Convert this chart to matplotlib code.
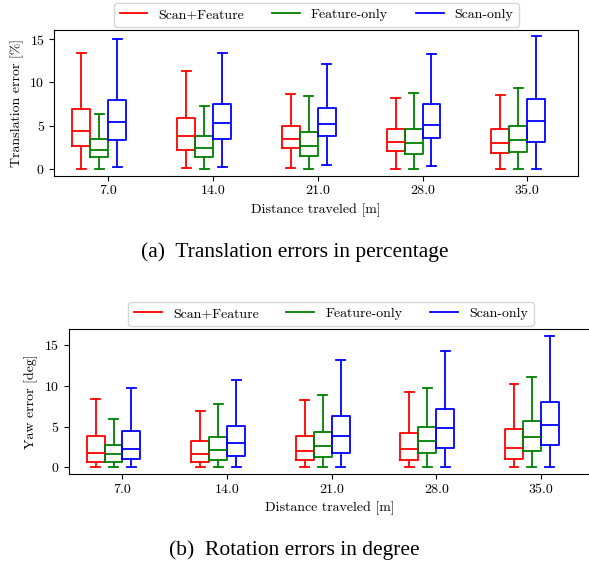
import matplotlib
matplotlib.use("Agg")
import matplotlib.pyplot as plt
from matplotlib.lines import Line2D

# Distances at which the errors were evaluated
distances = [7.0, 14.0, 21.0, 28.0, 35.0]
methods = ["Scan+Feature", "Feature-only", "Scan-only"]
colors = ["red", "green", "blue"]

# Translation error [%]: whisker low, Q1, median, Q3, whisker high
trans_low = {
    "Scan+Feature": [0.0, 0.08, 0.16, 0.0, 0.0],
    "Feature-only": [0.0, 0.0, 0.0, 0.0, 0.0],
    "Scan-only": [0.2, 0.27, 0.43, 0.35, 0.0],
}
trans_q1 = {
    "Scan+Feature": [2.65, 2.19, 2.38, 2.11, 1.88],
    "Feature-only": [1.38, 1.35, 1.5, 1.77, 2.0],
    "Scan-only": [3.34, 3.5, 3.76, 3.53, 3.15],
}
trans_med = {
    "Scan+Feature": [4.42, 3.8, 3.5, 3.15, 2.99],
    "Feature-only": [2.19, 2.38, 2.61, 3.04, 3.38],
    "Scan-only": [5.41, 5.34, 5.18, 5.07, 5.53],
}
trans_q3 = {
    "Scan+Feature": [6.95, 5.91, 4.91, 4.57, 4.6],
    "Feature-only": [3.42, 3.76, 4.3, 4.57, 4.95],
    "Scan-only": [8.02, 7.45, 7.06, 7.45, 8.06],
}
trans_high = {
    "Scan+Feature": [13.35, 11.32, 8.68, 8.17, 8.6],
    "Feature-only": [6.37, 7.3, 8.4, 8.75, 9.37],
    "Scan-only": [14.96, 13.35, 12.08, 13.23, 15.3],
}

# Yaw error [deg]
yaw_low = {
    "Scan+Feature": [0.0, 0.0, 0.0, 0.0, 0.0],
    "Feature-only": [0.0, 0.0, 0.0, 0.0, 0.0],
    "Scan-only": [0.0, 0.0, 0.0, 0.0, 0.0],
}
yaw_q1 = {
    "Scan+Feature": [0.69, 0.69, 0.85, 0.93, 1.05],
    "Feature-only": [0.69, 0.93, 1.29, 1.73, 2.02],
    "Scan-only": [1.0, 1.37, 1.73, 2.38, 2.7],
}
yaw_med = {
    "Scan+Feature": [1.77, 1.69, 2.06, 2.22, 2.34],
    "Feature-only": [1.61, 2.1, 2.62, 3.27, 3.75],
    "Scan-only": [2.3, 2.98, 3.79, 4.76, 5.2],
}
yaw_q3 = {
    "Scan+Feature": [3.79, 3.2, 3.83, 4.23, 4.72],
    "Feature-only": [2.78, 3.71, 4.27, 4.96, 5.65],
    "Scan-only": [4.48, 5.08, 6.29, 7.14, 8.02],
}
yaw_high = {
    "Scan+Feature": [8.35, 6.85, 8.27, 9.27, 10.16],
    "Feature-only": [5.89, 7.74, 8.83, 9.68, 11.09],
    "Scan-only": [9.76, 10.65, 13.1, 14.23, 16.09],
}

plt.rcParams["font.family"] = ["cmr10", "DejaVu Serif"]
plt.rcParams["axes.formatter.use_mathtext"] = True
plt.rcParams["font.size"] = 10


def draw_boxes(ax, low, q1, med, q3, high):
    width = 1.2
    offsets = [-1.8, -0.6, 0.6]
    for method, color, offset in zip(methods, colors, offsets):
        stats = []
        for i in range(len(distances)):
            stats.append({
                "whislo": low[method][i],
                "q1": q1[method][i],
                "med": med[method][i],
                "q3": q3[method][i],
                "whishi": high[method][i],
            })
        positions = [d + offset for d in distances]
        style = dict(color=color, linewidth=1.3)
        ax.bxp(stats, positions=positions, widths=width, showfliers=False,
               boxprops=style, whiskerprops=style, capprops=style,
               medianprops=style, manage_ticks=False)
    ax.set_xlim(3.4, 38.4)
    ax.set_xticks(distances)
    ax.set_xticklabels([f"{d:.1f}" for d in distances])
    ax.set_yticks([0, 5, 10, 15])
    ax.set_xlabel("Distance traveled [m]")


fig = plt.figure(figsize=(5.89, 5.63), dpi=100)

ax_top = fig.add_axes([0.0925, 0.688, 0.889, 0.259])
draw_boxes(ax_top, trans_low, trans_q1, trans_med, trans_q3, trans_high)
ax_top.set_ylabel("Translation error [%]")

ax_bot = fig.add_axes([0.1166, 0.158, 0.888, 0.2575])
draw_boxes(ax_bot, yaw_low, yaw_q1, yaw_med, yaw_q3, yaw_high)
ax_bot.set_ylabel("Yaw error [deg]")

handles = [Line2D([], [], color=c, linewidth=1.3) for c in colors]
fig.legend(handles, methods, loc="upper center", ncol=3, borderaxespad=0,
           bbox_to_anchor=(316.5 / 589, 1 - 3 / 563), columnspacing=2.0)
fig.legend(handles, methods, loc="upper center", ncol=3, borderaxespad=0,
           bbox_to_anchor=(331 / 589, 1 - 302 / 563), columnspacing=2.0)

fig.text(0.5, 1 - 252 / 563, "(a)  Translation errors in percentage",
         ha="center", va="center", family="Liberation Serif", fontsize=15.5)
fig.text(0.5, 1 - 550 / 563, "(b)  Rotation errors in degree",
         ha="center", va="center", family="Liberation Serif", fontsize=15.5)

fig.savefig("out.png", dpi=100)
